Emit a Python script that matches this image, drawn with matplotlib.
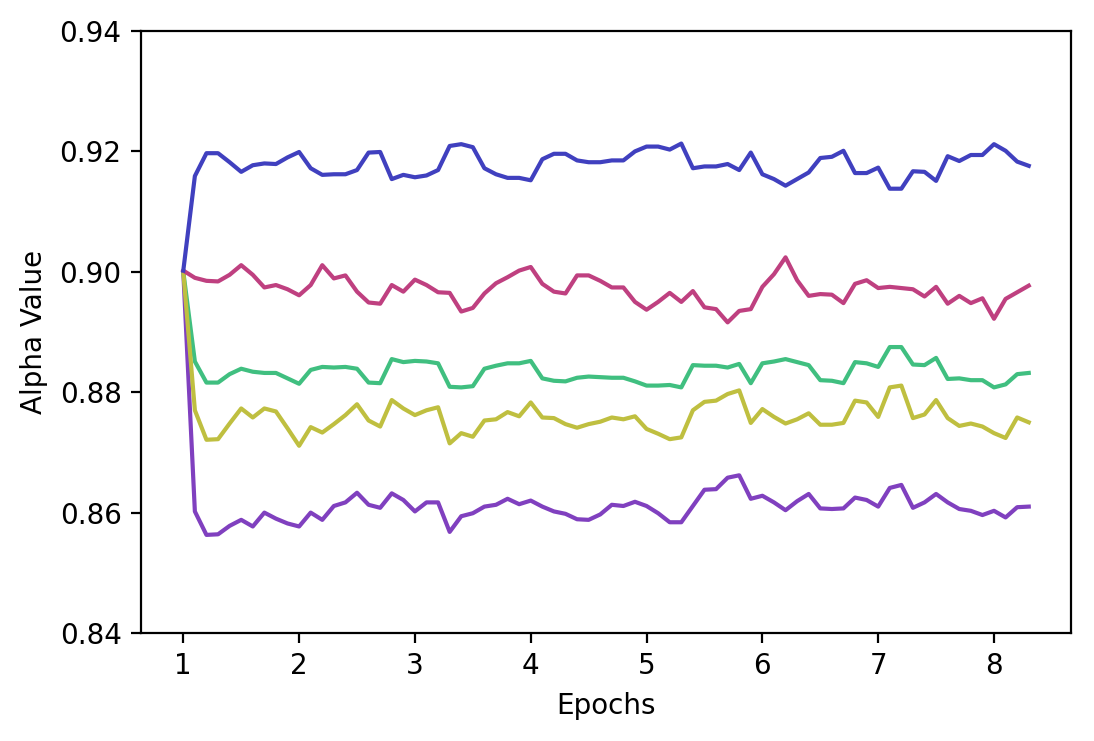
import matplotlib
matplotlib.use('Agg')
import matplotlib.pyplot as plt
import numpy as np

# epochs 1.0 .. 8.3 in steps of 0.1
epochs = np.round(np.arange(1.0, 8.31, 0.1), 1)

alpha_blue = [0.9002, 0.9159, 0.9197, 0.9197, 0.9182, 0.9166, 0.9177, 0.9180, 0.9179, 0.9190,
              0.9199, 0.9172, 0.9161, 0.9162, 0.9162, 0.9169, 0.9198, 0.9199, 0.9154, 0.9161,
              0.9157, 0.9160, 0.9169, 0.9209, 0.9212, 0.9207, 0.9172, 0.9162, 0.9156, 0.9156,
              0.9152, 0.9187, 0.9196, 0.9196, 0.9185, 0.9182, 0.9182, 0.9185, 0.9185, 0.9200,
              0.9208, 0.9208, 0.9203, 0.9213, 0.9172, 0.9175, 0.9175, 0.9179, 0.9169, 0.9198,
              0.9162, 0.9154, 0.9143, 0.9154, 0.9165, 0.9189, 0.9191, 0.9201, 0.9164,
              0.9164, 0.9173, 0.9138, 0.9138, 0.9167, 0.9166, 0.9151, 0.9192, 0.9184, 0.9194,
              0.9194, 0.9212, 0.9201, 0.9183, 0.9176]

alpha_pink = [0.9002, 0.8990, 0.8985, 0.8984, 0.8995, 0.9011, 0.8995, 0.8974, 0.8978, 0.8971,
              0.8961, 0.8978, 0.9011, 0.8989, 0.8994, 0.8967, 0.8949, 0.8947, 0.8978, 0.8967,
              0.8987, 0.8978, 0.8966, 0.8965, 0.8934, 0.8940, 0.8964, 0.8981, 0.8991, 0.9002,
              0.9008, 0.8980, 0.8967, 0.8964, 0.8994, 0.8994, 0.8985, 0.8974, 0.8974, 0.8950,
              0.8937, 0.8950, 0.8965, 0.8950, 0.8968, 0.8941, 0.8938, 0.8916, 0.8935, 0.8938,
              0.8975, 0.8996, 0.9024, 0.8986, 0.8960, 0.8963, 0.8962, 0.8948, 0.8980,
              0.8986, 0.8973, 0.8975, 0.8973, 0.8971, 0.8959, 0.8975, 0.8947, 0.8960, 0.8948,
              0.8956, 0.8922, 0.8955, 0.8966, 0.8977]

alpha_green = [0.9000, 0.8851, 0.8816, 0.8816, 0.8830, 0.8839, 0.8834, 0.8832, 0.8832, 0.8823,
               0.8814, 0.8837, 0.8842, 0.8841, 0.8842, 0.8839, 0.8816, 0.8815, 0.8855, 0.8850,
               0.8852, 0.8851, 0.8848, 0.8809, 0.8808, 0.8810, 0.8839, 0.8844, 0.8848, 0.8848,
               0.8852, 0.8823, 0.8819, 0.8818, 0.8824, 0.8826, 0.8825, 0.8824, 0.8824, 0.8818,
               0.8811, 0.8811, 0.8812, 0.8808, 0.8845, 0.8844, 0.8844, 0.8841, 0.8847, 0.8815,
               0.8848, 0.8851, 0.8855, 0.8850, 0.8845, 0.8820, 0.8819, 0.8815, 0.8850,
               0.8848, 0.8842, 0.8875, 0.8875, 0.8846, 0.8845, 0.8857, 0.8822, 0.8823, 0.8820,
               0.8820, 0.8808, 0.8813, 0.8830, 0.8832]

alpha_yellow = [0.9000, 0.8770, 0.8721, 0.8722, 0.8748, 0.8773, 0.8758, 0.8773, 0.8768, 0.8740,
                0.8711, 0.8742, 0.8733, 0.8747, 0.8762, 0.8780, 0.8753, 0.8743, 0.8787, 0.8773,
                0.8762, 0.8770, 0.8775, 0.8715, 0.8732, 0.8726, 0.8753, 0.8755, 0.8767, 0.8760,
                0.8783, 0.8758, 0.8757, 0.8747, 0.8741, 0.8747, 0.8751, 0.8758, 0.8755, 0.8760,
                0.8739, 0.8731, 0.8722, 0.8725, 0.8770, 0.8784, 0.8786, 0.8797, 0.8803, 0.8749,
                0.8772, 0.8759, 0.8748, 0.8755, 0.8765, 0.8746, 0.8746, 0.8749, 0.8786,
                0.8783, 0.8759, 0.8808, 0.8811, 0.8757, 0.8763, 0.8787, 0.8757, 0.8744, 0.8748,
                0.8743, 0.8732, 0.8724, 0.8758, 0.8750]

alpha_purple = [0.9000, 0.8602, 0.8563, 0.8564, 0.8578, 0.8588, 0.8577, 0.8600, 0.8590, 0.8582,
                0.8577, 0.8600, 0.8588, 0.8611, 0.8617, 0.8633, 0.8613, 0.8608, 0.8632, 0.8621,
                0.8602, 0.8617, 0.8617, 0.8568, 0.8594, 0.8599, 0.8610, 0.8613, 0.8623, 0.8614,
                0.8620, 0.8610, 0.8602, 0.8598, 0.8589, 0.8588, 0.8597, 0.8613, 0.8611, 0.8618,
                0.8611, 0.8599, 0.8584, 0.8584, 0.8611, 0.8638, 0.8639, 0.8658, 0.8662, 0.8623,
                0.8628, 0.8617, 0.8604, 0.8619, 0.8631, 0.8607, 0.8606, 0.8607, 0.8625,
                0.8621, 0.8610, 0.8641, 0.8646, 0.8608, 0.8617, 0.8631, 0.8617, 0.8606, 0.8603,
                0.8596, 0.8603, 0.8592, 0.8609, 0.8610]

series = [
    (alpha_purple, '#8040bf'),
    (alpha_green, '#40bf80'),
    (alpha_yellow, '#bfbf40'),
    (alpha_pink, '#bf4080'),
    (alpha_blue, '#4040bf'),
]

fig = plt.figure(figsize=(5.47, 3.705), dpi=200)
ax = fig.add_axes([0.1289, 0.1457, 0.8501, 0.8125])

for values, color in series:
    ax.plot(epochs, values, color=color, linewidth=1.5)

ax.set_ylim(0.84, 0.94)
ax.set_yticks([0.84, 0.86, 0.88, 0.90, 0.92, 0.94])
ax.set_xticks(range(1, 9))
ax.set_xlabel('Epochs')
ax.set_ylabel('Alpha Value')

fig.savefig('out.png', dpi=200)
